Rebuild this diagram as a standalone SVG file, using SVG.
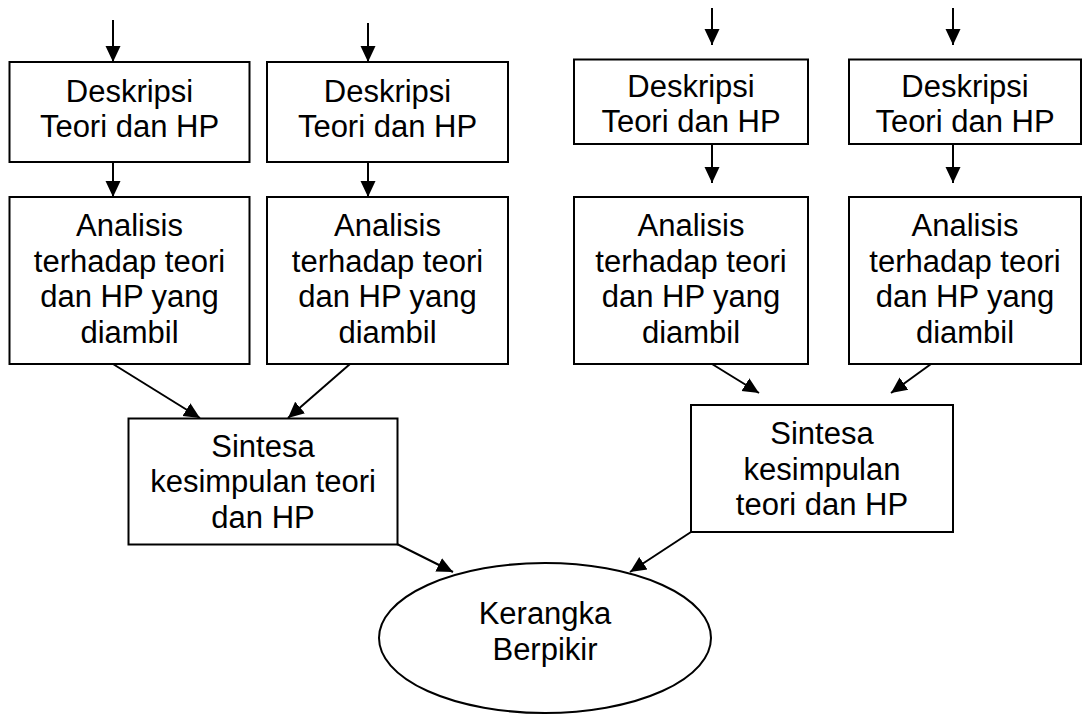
<svg xmlns="http://www.w3.org/2000/svg" width="1083" height="714" viewBox="0 0 1083 714">
  <style>
    .box { fill: #ffffff; stroke: #000000; stroke-width: 2; }
    .edge { fill: none; stroke: #000000; stroke-width: 2; }
    text { font-family: "Liberation Sans", Arial, sans-serif; font-size: 31px; fill: #000000; text-anchor: middle; }
  </style>
  <defs>
    <marker id="arrow" markerUnits="userSpaceOnUse" markerWidth="18" markerHeight="18" viewBox="0 0 18 18" refX="16" refY="9" orient="auto">
      <path d="M0,1.5 L16,9 L0,16.5 Z" fill="#000000"/>
    </marker>
  </defs>
  <rect width="1083" height="714" fill="#ffffff"/>

  <g id="connectors">
    <!-- incoming arrows on top of each description box -->
    <line class="edge" x1="113" y1="20" x2="113" y2="62" marker-end="url(#arrow)"/>
    <line class="edge" x1="368" y1="23" x2="368" y2="62" marker-end="url(#arrow)"/>
    <line class="edge" x1="712" y1="8" x2="712" y2="45" marker-end="url(#arrow)"/>
    <line class="edge" x1="953" y1="8" x2="953" y2="45" marker-end="url(#arrow)"/>
    <!-- description to analysis -->
    <line class="edge" x1="113" y1="162" x2="113" y2="197" marker-end="url(#arrow)"/>
    <line class="edge" x1="368" y1="162" x2="368" y2="197" marker-end="url(#arrow)"/>
    <line class="edge" x1="712" y1="144" x2="712" y2="183" marker-end="url(#arrow)"/>
    <line class="edge" x1="953" y1="144" x2="953" y2="183" marker-end="url(#arrow)"/>
    <!-- analysis to synthesis -->
    <line class="edge" x1="113" y1="364" x2="200" y2="418" marker-end="url(#arrow)"/>
    <line class="edge" x1="350" y1="364" x2="288" y2="418" marker-end="url(#arrow)"/>
    <line class="edge" x1="712" y1="364" x2="759" y2="393" marker-end="url(#arrow)"/>
    <line class="edge" x1="931" y1="364" x2="891" y2="393" marker-end="url(#arrow)"/>
    <!-- synthesis to framework -->
    <line class="edge" x1="397" y1="544" x2="453" y2="572" marker-end="url(#arrow)"/>
    <line class="edge" x1="691" y1="532" x2="630" y2="572" marker-end="url(#arrow)"/>
  </g>

  <g id="deskripsi-1">
    <rect class="box" x="9.5" y="62" width="240" height="100"/>
    <text x="129.5" y="101.5">Deskripsi</text>
    <text x="129.5" y="136.5">Teori dan HP</text>
  </g>
  <g id="deskripsi-2">
    <rect class="box" x="267" y="62" width="241" height="100"/>
    <text x="387.5" y="101.5">Deskripsi</text>
    <text x="387.5" y="136.5">Teori dan HP</text>
  </g>
  <g id="deskripsi-3">
    <rect class="box" x="574" y="59.5" width="234" height="84.5"/>
    <text x="691" y="96.5">Deskripsi</text>
    <text x="691" y="131.5">Teori dan HP</text>
  </g>
  <g id="deskripsi-4">
    <rect class="box" x="849" y="59.5" width="232" height="84.5"/>
    <text x="965" y="96.5">Deskripsi</text>
    <text x="965" y="131.5">Teori dan HP</text>
  </g>

  <g id="analisis-1">
    <rect class="box" x="9.5" y="197" width="240" height="167"/>
    <text x="129.5" y="235.5">Analisis</text>
    <text x="129.5" y="271.5">terhadap teori</text>
    <text x="129.5" y="307">dan HP yang</text>
    <text x="129.5" y="342.5">diambil</text>
  </g>
  <g id="analisis-2">
    <rect class="box" x="267" y="197" width="241" height="167"/>
    <text x="387.5" y="235.5">Analisis</text>
    <text x="387.5" y="271.5">terhadap teori</text>
    <text x="387.5" y="307">dan HP yang</text>
    <text x="387.5" y="342.5">diambil</text>
  </g>
  <g id="analisis-3">
    <rect class="box" x="574" y="197" width="234" height="167"/>
    <text x="691" y="235.5">Analisis</text>
    <text x="691" y="271.5">terhadap teori</text>
    <text x="691" y="307">dan HP yang</text>
    <text x="691" y="342.5">diambil</text>
  </g>
  <g id="analisis-4">
    <rect class="box" x="849" y="197" width="232" height="167"/>
    <text x="965" y="235.5">Analisis</text>
    <text x="965" y="271.5">terhadap teori</text>
    <text x="965" y="307">dan HP yang</text>
    <text x="965" y="342.5">diambil</text>
  </g>

  <g id="sintesa-1">
    <rect class="box" x="128.5" y="418.5" width="269" height="126"/>
    <text x="263" y="456.5">Sintesa</text>
    <text x="263" y="492">kesimpulan teori</text>
    <text x="263" y="527.5">dan HP</text>
  </g>
  <g id="sintesa-2">
    <rect class="box" x="691" y="405" width="262" height="127"/>
    <text x="822" y="443.5">Sintesa</text>
    <text x="822" y="479.5">kesimpulan</text>
    <text x="822" y="515">teori dan HP</text>
  </g>

  <g id="kerangka-berpikir">
    <ellipse class="box" cx="545" cy="638" rx="166" ry="75"/>
    <text x="545" y="623.5">Kerangka</text>
    <text x="545" y="659.5">Berpikir</text>
  </g>
</svg>
